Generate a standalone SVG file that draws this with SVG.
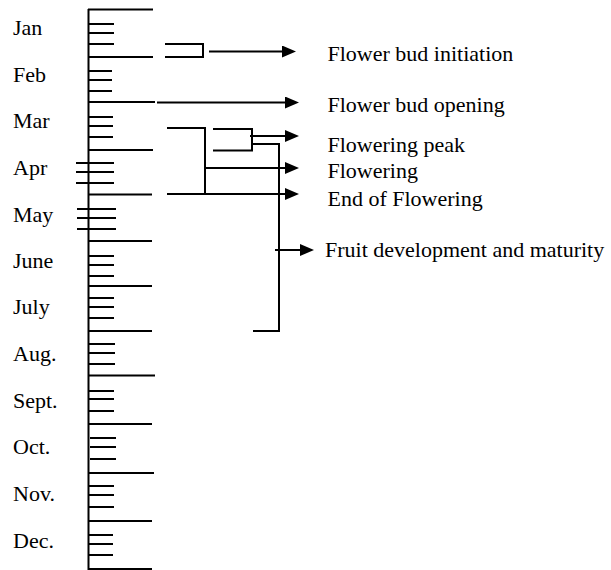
<svg xmlns="http://www.w3.org/2000/svg" width="611" height="570" viewBox="0 0 611 570">
<defs>
<style>
.ln{stroke:#000;stroke-width:2;fill:none}
.tk{stroke:#000;stroke-width:1.8;fill:none}
text{font-family:'Liberation Serif',serif;font-size:22px;fill:#000}
</style>
<marker id="ah" markerUnits="userSpaceOnUse" markerWidth="14" markerHeight="12" viewBox="0 0 14 12" refX="0" refY="6" orient="auto">
<path d="M0,0 L14,6 L0,12 z" fill="#000"/>
</marker>
</defs>
<rect width="611" height="570" fill="#fff"/>
<g id="axis">
<line class="ln" x1="88.5" y1="9" x2="88.5" y2="570"/>
<line class="ln" x1="88" y1="9.5" x2="153" y2="9.5"/>
<line class="ln" x1="88" y1="57" x2="153" y2="57"/>
<line class="ln" x1="88" y1="102" x2="155" y2="102"/>
<line class="ln" x1="88" y1="150" x2="153" y2="150"/>
<line class="ln" x1="88" y1="194.5" x2="152" y2="194.5"/>
<line class="ln" x1="88" y1="241" x2="152" y2="241"/>
<line class="ln" x1="88" y1="286" x2="152" y2="286"/>
<line class="ln" x1="88" y1="331" x2="152" y2="331"/>
<line class="ln" x1="88" y1="375.5" x2="155" y2="375.5"/>
<line class="ln" x1="88" y1="424" x2="152" y2="424"/>
<line class="ln" x1="88" y1="473" x2="154" y2="473"/>
<line class="ln" x1="88" y1="521" x2="152" y2="521"/>
<line class="ln" x1="88" y1="569" x2="152" y2="569"/>
</g>
<g id="jan"><text x="13" y="35">Jan</text><path class="tk" d="M88,24H114M88,33H114M88,44H114"/></g>
<g id="feb"><text x="13" y="82">Feb</text><path class="tk" d="M88,71H112M88,80H112M88,91H112"/></g>
<g id="mar"><text x="13" y="128">Mar</text><path class="tk" d="M88,117H113M88,126H113M88,137H113"/></g>
<g id="apr"><text x="13" y="175">Apr</text><path class="tk" d="M76,163H114M76,172H114M76,183H114"/></g>
<g id="may"><text x="13" y="222">May</text><path class="tk" d="M77,209H116M77,218H116M77,229H116"/></g>
<g id="june"><text x="13" y="268">June</text><path class="tk" d="M88,256H114M88,265H114M88,276H114"/></g>
<g id="july"><text x="13" y="314">July</text><path class="tk" d="M88,298H114M88,307H114M88,318H114"/></g>
<g id="aug"><text x="13" y="361">Aug.</text><path class="tk" d="M88,344H115M88,353H115M88,364H115"/></g>
<g id="sept"><text x="13" y="408">Sept.</text><path class="tk" d="M88,391H114M88,399H114M88,411H114"/></g>
<g id="oct"><text x="13" y="454">Oct.</text><path class="tk" d="M90,438H116M90,447H116M90,459H116"/></g>
<g id="nov"><text x="13" y="501">Nov.</text><path class="tk" d="M88,486H114M88,495H114M88,507H114"/></g>
<g id="dec"><text x="13" y="548">Dec.</text><path class="tk" d="M88,535H113M88,544H113M88,555H113"/></g>
<g id="connectors">
<path class="ln" d="M165,44H203V57H165"/>
<line class="ln" x1="209" y1="51.5" x2="282" y2="51.5" marker-end="url(#ah)"/>
<line class="ln" x1="157" y1="102.5" x2="285" y2="102.5" marker-end="url(#ah)"/>
<path class="ln" d="M213,129H252V150.5H213"/>
<line class="ln" x1="250" y1="136" x2="285" y2="136" marker-end="url(#ah)"/>
<path class="ln" d="M252,144H279V331H253"/>
<line class="ln" x1="275" y1="250" x2="300" y2="250" marker-end="url(#ah)"/>
<path class="ln" d="M167,128H205V194"/>
<line class="ln" x1="205" y1="168" x2="285" y2="168" marker-end="url(#ah)"/>
<line class="ln" x1="167" y1="194" x2="285" y2="194" marker-end="url(#ah)"/>
</g>
<g id="labels">
<text x="327.5" y="61">Flower bud initiation</text>
<text x="327.5" y="111.5">Flower bud opening</text>
<text x="327.5" y="151.5">Flowering peak</text>
<text x="327.5" y="177.5">Flowering</text>
<text x="327.5" y="205.5">End of Flowering</text>
<text x="325" y="256.5">Fruit development and maturity</text>
</g>
</svg>
